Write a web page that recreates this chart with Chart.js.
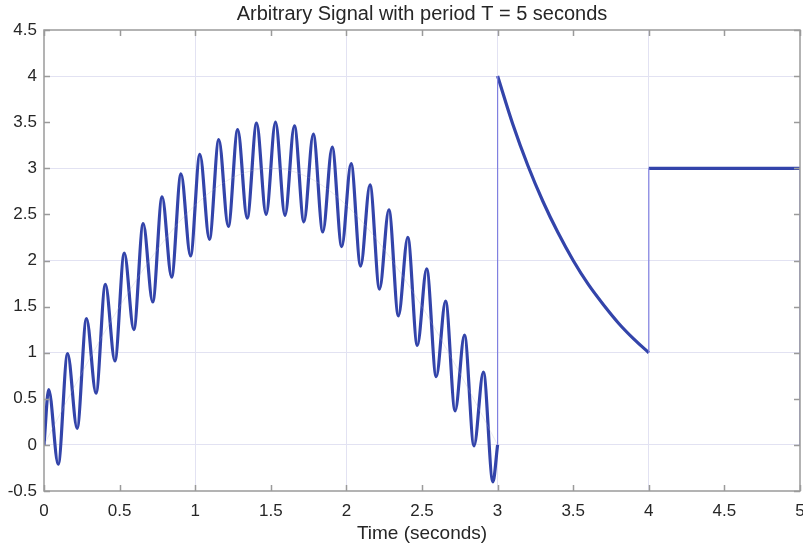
<!DOCTYPE html>
<html>
<head>
<meta charset="utf-8">
<title>Arbitrary Signal</title>
<script src="https://cdn.jsdelivr.net/npm/chart.js@4.4.1/dist/chart.umd.min.js"></script>
<style>
  html, body { margin: 0; padding: 0; background: #fff; }
  #wrap { width: 803px; height: 547px; }
</style>
</head>
<body>
<div id="wrap"><canvas id="signalChart" width="803" height="547"></canvas></div>
<script>
// Sine part of one period (0..3 s): start, alternating crests/troughs, end
const waveT = [0, 0.031, 0.094, 0.156, 0.219, 0.281, 0.344, 0.406, 0.469, 0.531, 0.594,
    0.656, 0.719, 0.781, 0.844, 0.906, 0.969, 1.031, 1.094, 1.156, 1.219, 1.281, 1.344,
    1.406, 1.469, 1.531, 1.594, 1.656, 1.719, 1.781, 1.844, 1.906, 1.969, 2.031, 2.094,
    2.156, 2.219, 2.281, 2.344, 2.406, 2.469, 2.531, 2.594, 2.656, 2.719, 2.781, 2.844,
    2.906, 2.969, 3.0];
const waveV = [0, 0.60, -0.21, 0.99, 0.18, 1.37, 0.56, 1.74, 0.91, 2.08, 1.25,
    2.40, 1.55, 2.69, 1.82, 2.94, 2.05, 3.15, 2.23, 3.31, 2.37, 3.42, 2.46,
    3.49, 2.50, 3.50, 2.49, 3.46, 2.42, 3.37, 2.31, 3.23, 2.15, 3.05, 1.94,
    2.82, 1.69, 2.55, 1.40, 2.25, 1.08, 1.91, 0.74, 1.56, 0.37, 1.19, -0.01,
    0.79, -0.40, 0];

// Faint envelope under the sine part
const envT = [0, 0.25, 0.5, 0.75, 1, 1.25, 1.5, 1.75, 2, 2.25, 2.5, 2.75, 3];
const envV = [0, 0.78, 1.5, 2.12, 2.6, 2.9, 3, 2.9, 2.6, 2.12, 1.5, 0.78, 0];

// Decay part (3..4 s)
const decayT = [3, 3.1, 3.2, 3.3, 3.4, 3.5, 3.6, 3.7, 3.8, 3.9, 4];
const decayV = [4, 3.48, 3.03, 2.64, 2.30, 2.0, 1.74, 1.52, 1.32, 1.15, 1];

// Constant part (4..5 s)
const flatT = [4, 5];
const flatV = [3, 3];

// Jumps between the pieces
const jumpT = [3, 3, null, 4, 4, null, 5, 5];
const jumpV = [0, 4, null, 1, 3, null, 3, 0];

// Axis ticks
const xTicks = [0, 0.5, 1, 1.5, 2, 2.5, 3, 3.5, 4, 4.5, 5];
const yTicks = [-0.5, 0, 0.5, 1, 1.5, 2, 2.5, 3, 3.5, 4, 4.5];

const lineBlue = '#3344aa';
const gridCol = '#e2e2f2';
const axisCol = '#9a9a9a';
const textCol = '#262626';
const fontFamily = 'Liberation Sans, Arial, sans-serif';

function toPoints(xs, ys) {
    return xs.map((x, i) => (x === null ? { x: NaN, y: NaN } : { x: x, y: ys[i] }));
}

// MATLAB-like box with inward ticks on all four sides
const boxPlugin = {
    id: 'boxTicks',
    afterDatasetsDraw(chart) {
        const { ctx, chartArea: a, scales } = chart;
        const len = 6;
        ctx.save();
        ctx.strokeStyle = axisCol;
        ctx.lineWidth = 1.5;
        ctx.beginPath();
        xTicks.forEach(v => {
            const px = Math.round(scales.x.getPixelForValue(v)) + 0.5;
            ctx.moveTo(px, a.bottom); ctx.lineTo(px, a.bottom - len);
            ctx.moveTo(px, a.top); ctx.lineTo(px, a.top + len);
        });
        yTicks.forEach(v => {
            const py = Math.round(scales.y.getPixelForValue(v)) + 0.5;
            ctx.moveTo(a.left, py); ctx.lineTo(a.left + len, py);
            ctx.moveTo(a.right, py); ctx.lineTo(a.right - len, py);
        });
        ctx.stroke();
        ctx.strokeRect(a.left, a.top, a.right - a.left, a.bottom - a.top);
        ctx.restore();
    }
};

const ctx = document.getElementById('signalChart').getContext('2d');
new Chart(ctx, {
    type: 'line',
    data: {
        datasets: [
            {
                label: 'envelope',
                data: toPoints(envT, envV),
                borderColor: 'rgba(170, 170, 200, 0.25)',
                borderWidth: 1,
                pointRadius: 0,
                cubicInterpolationMode: 'monotone'
            },
            {
                label: 'jumps',
                data: toPoints(jumpT, jumpV),
                borderColor: '#8080e0',
                borderWidth: 1.2,
                pointRadius: 0,
                spanGaps: false
            },
            {
                label: 'wave',
                data: toPoints(waveT, waveV),
                borderColor: lineBlue,
                borderWidth: 3.2,
                pointRadius: 0,
                cubicInterpolationMode: 'monotone'
            },
            {
                label: 'decay',
                data: toPoints(decayT, decayV),
                borderColor: lineBlue,
                borderWidth: 3.2,
                pointRadius: 0,
                cubicInterpolationMode: 'monotone'
            },
            {
                label: 'flat',
                data: toPoints(flatT, flatV),
                borderColor: lineBlue,
                borderWidth: 3.2,
                pointRadius: 0
            }
        ]
    },
    options: {
        responsive: false,
        animation: false,
        events: [],
        layout: { padding: { left: 0, right: 3, top: 0, bottom: 0 } },
        plugins: {
            legend: { display: false },
            tooltip: { enabled: false },
            title: {
                display: true,
                text: 'Arbitrary Signal with period T = 5 seconds',
                fullSize: false,
                color: textCol,
                font: { family: fontFamily, size: 20, weight: 'normal' },
                padding: { top: 2, bottom: 4 }
            }
        },
        scales: {
            x: {
                type: 'linear',
                min: 0,
                max: 5,
                afterBuildTicks(scale) { scale.ticks = xTicks.map(v => ({ value: v })); },
                afterFit(scale) {
                    scale.height = 56;
                    // let the last label run past the plot edge
                    scale.paddingRight = 0;
                    scale.paddingLeft = 0;
                },
                border: { display: false },
                grid: {
                    drawTicks: false,
                    color: c => (Number.isInteger(c.tick.value) && c.tick.value > 0 && c.tick.value < 5 ? gridCol : 'rgba(0,0,0,0)'),
                    lineWidth: 1
                },
                ticks: {
                    color: textCol,
                    padding: 10,
                    maxRotation: 0,
                    font: { family: fontFamily, size: 17 },
                    callback: v => String(v)
                },
                title: {
                    display: true,
                    text: 'Time (seconds)',
                    color: textCol,
                    font: { family: fontFamily, size: 19 },
                    padding: { top: 0, bottom: 2 }
                }
            },
            y: {
                type: 'linear',
                min: -0.5,
                max: 4.5,
                afterBuildTicks(scale) { scale.ticks = yTicks.map(v => ({ value: v })); },
                afterFit(scale) { scale.width = 44; },
                border: { display: false },
                grid: {
                    drawTicks: false,
                    color: c => (Number.isInteger(c.tick.value) ? gridCol : 'rgba(0,0,0,0)'),
                    lineWidth: 1
                },
                ticks: {
                    color: textCol,
                    padding: 7,
                    font: { family: fontFamily, size: 17 },
                    callback: v => String(v)
                }
            }
        }
    },
    plugins: [boxPlugin]
});
</script>
</body>
</html>
